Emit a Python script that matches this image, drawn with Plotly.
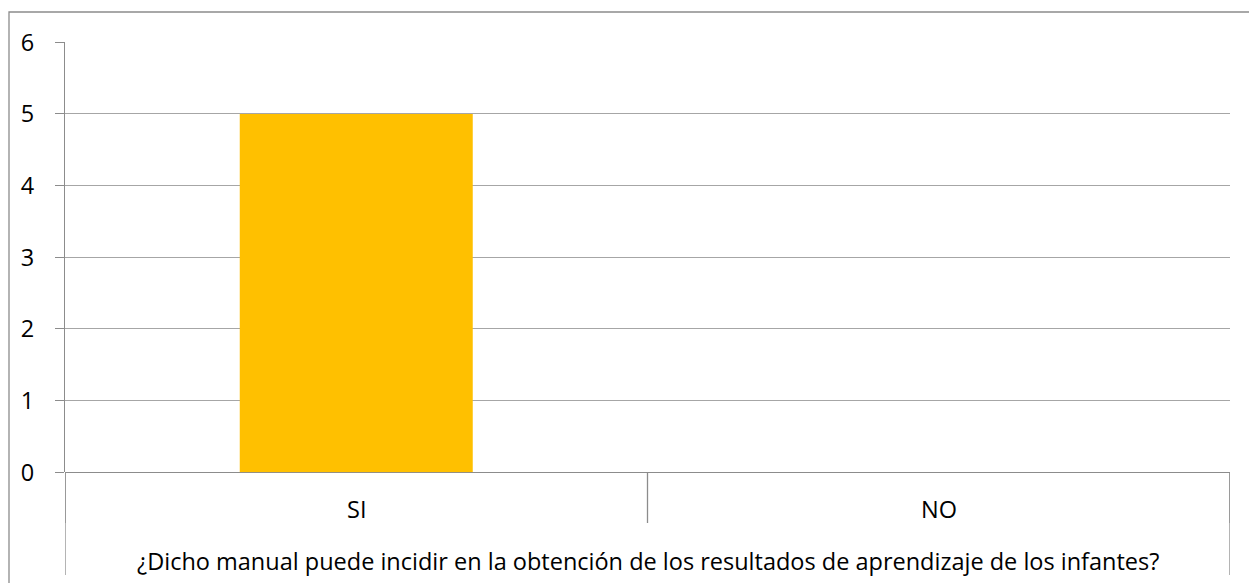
import plotly.graph_objects as go

categories = ["SI", "NO"]
values = [5, 0]
group_label = "¿Dicho manual puede incidir en la obtención de los resultados de aprendizaje de los infantes?"
y_ticks = [0, 1, 2, 3, 4, 5, 6]

W, H = 1249, 583
x0p, x1p = 65 / W, 1230 / W
ytop = 1 - 42.3 / H
ybot = 1 - 472.3 / H

def py(pix):
    return 1 - pix / H

FONT = "Open Sans"
FS = 23.5
LINE = "#A6A6A6"
BORDER = "#8C8C8C"

fig = go.Figure()
fig.add_trace(go.Bar(x=categories, y=values, marker=dict(color="#FFC000", line=dict(width=0)),
                     width=0.4, hoverinfo="skip"))

shapes = []
shapes.append(dict(type="rect", xref="paper", yref="paper", x0=9 / W, x1=1.02, y0=-0.02, y1=py(12),
                   line=dict(color=BORDER, width=1.3), layer="below"))
for xv in [-0.5, 0.5, 1.5]:
    shapes.append(dict(type="line", xref="x", yref="paper", x0=xv, x1=xv, y0=ybot, y1=py(523),
                       line=dict(color=BORDER, width=1.3)))
for xv in [-0.5, 1.5]:
    shapes.append(dict(type="line", xref="x", yref="paper", x0=xv, x1=xv, y0=ybot, y1=py(575),
                       line=dict(color=BORDER, width=1.3)))

annotations = []
for c in categories:
    annotations.append(dict(x=c, xref="x", y=py(509), yref="paper", text=c, showarrow=False,
                            font=dict(family=FONT, size=FS, color="#000000"), yanchor="middle"))
annotations.append(dict(x=0.5, xref="x", y=py(561), yref="paper", text=group_label, showarrow=False,
                        font=dict(family=FONT, size=FS, color="#000000"), yanchor="middle"))

fig.update_layout(
    width=W, height=H,
    margin=dict(l=0, r=0, t=0, b=0, pad=0),
    paper_bgcolor="white", plot_bgcolor="white",
    showlegend=False,
    shapes=shapes,
    annotations=annotations,
    font=dict(family=FONT, size=FS, color="#000000"),
    xaxis=dict(domain=[x0p, x1p], type="category", range=[-0.5, 1.5], showticklabels=False,
               showgrid=False, zeroline=False, showline=False, ticks="", fixedrange=True,
               automargin=False),
    yaxis=dict(domain=[ybot, ytop], range=[0, 6], tickvals=y_ticks, ticktext=[str(v) for v in y_ticks],
               showgrid=True, gridcolor=LINE, gridwidth=1.3, zeroline=True, zerolinecolor=BORDER,
               zerolinewidth=1.3, showline=True, linecolor=BORDER, linewidth=1.3,
               ticks="outside", ticklen=9, tickcolor=BORDER, tickwidth=1.3,
               ticklabelstandoff=16, tickfont=dict(family=FONT, size=FS, color="#000000"),
               fixedrange=True, automargin=False),
)

fig.write_html("out.html", config={"displayModeBar": False},
               post_script="document.body.style.margin='0';document.body.style.overflow='hidden';")
